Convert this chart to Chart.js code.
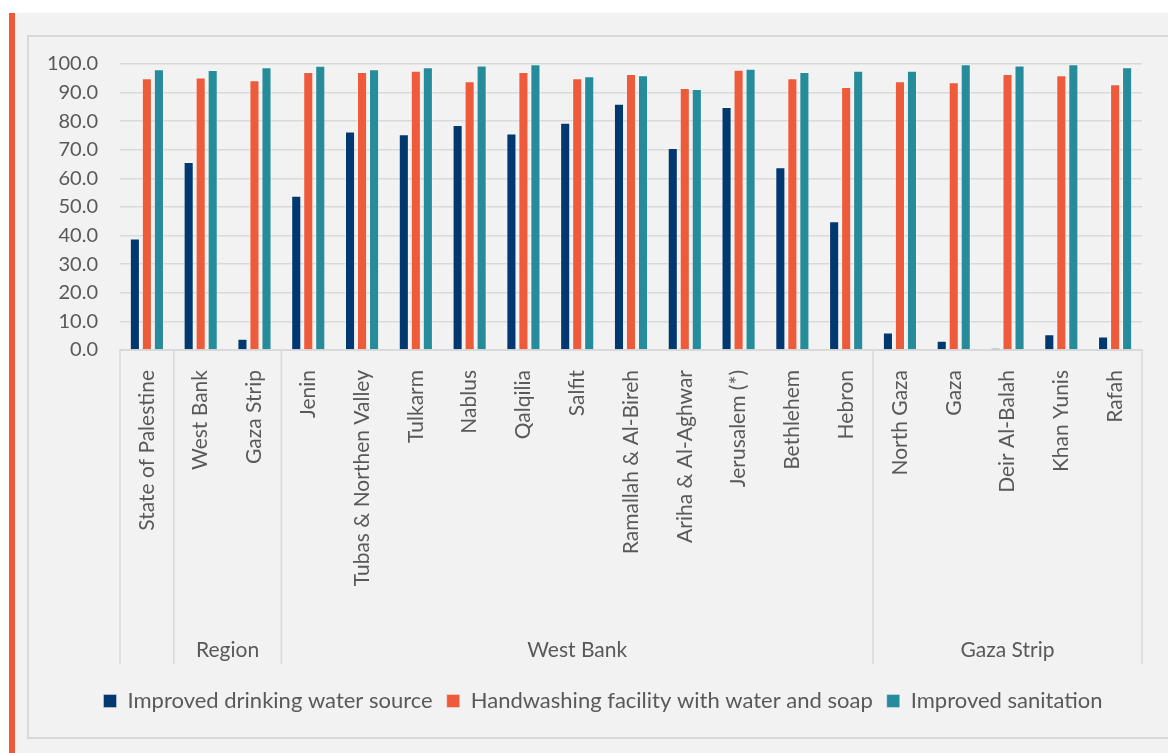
<!DOCTYPE html>
<html>
<head>
<meta charset="utf-8">
<script src="https://cdn.jsdelivr.net/npm/chart.js@4.4.1/dist/chart.umd.min.js"></script>
<style>
  html, body { margin: 0; padding: 0; background: #fff; }
  #wrap { width: 1168px; height: 753px; }
</style>
</head>
<body>
<div id="wrap"><canvas id="chart" width="1168" height="753"></canvas></div>
<script>
const categories = [
  'State of Palestine',
  'West Bank', 'Gaza Strip',
  'Jenin', 'Tubas & Northen Valley', 'Tulkarm', 'Nablus', 'Qalqilia', 'Salfit',
  'Ramallah & Al-Bireh', 'Ariha & Al-Aghwar', 'Jerusalem (*)', 'Bethlehem', 'Hebron',
  'North Gaza', 'Gaza', 'Deir Al-Balah', 'Khan Yunis', 'Rafah'
];
const groupLabels = ['', 'Region', 'West Bank', 'Gaza Strip'];
const groupSizes = [1, 2, 11, 5];

const seriesNames = [
  'Improved drinking water source',
  'Handwashing facility with water and soap',
  'Improved sanitation'
];
const drinkingWater = [39.0, 65.7, 3.9, 53.9, 76.4, 75.4, 78.7, 75.7, 79.5, 86.1, 70.6, 85.0, 63.9, 45.0, 6.1, 3.2, 0.6, 5.5, 4.7];
const handwashing = [95.0, 95.3, 94.3, 97.2, 97.2, 97.6, 94.0, 97.2, 95.0, 96.5, 91.6, 98.0, 95.0, 92.0, 94.0, 93.6, 96.5, 96.1, 92.9];
const sanitation = [98.2, 97.9, 98.9, 99.4, 98.2, 98.9, 99.5, 99.9, 95.7, 96.1, 91.3, 98.3, 97.2, 97.6, 97.6, 99.9, 99.5, 99.9, 98.9];

const COLORS = ['#00386f', '#ee5b3b', '#268b9a'];
const TEXT = '#595959';
const LINE = '#d9d9d9';
const FONT = 'Lato';

// page frame: white edge, orange strip, grey panel, inner border
const framePlugin = {
  id: 'frame',
  beforeDraw(chart) {
    const c = chart.ctx;
    c.save();
    c.fillStyle = '#ffffff';
    c.fillRect(0, 0, chart.width, chart.height);
    c.fillStyle = '#f2f2f2';
    c.fillRect(15, 13, chart.width - 15, chart.height - 13);
    c.fillStyle = '#ee5b3b';
    c.fillRect(9, 13, 6, chart.height - 13);
    c.strokeStyle = LINE;
    c.lineWidth = 2;
    c.strokeRect(28, 36, chart.width, 702);
    c.restore();
    // legend sits a bit right of the padded box centre
    if (chart.legend) {
      chart.legend.left += 12;
      chart.legend.right += 12;
    }
  }
};

// multi-level category axis: separators and group names
const groupPlugin = {
  id: 'groups',
  afterDraw(chart) {
    const x = chart.scales.x;
    const c = chart.ctx;
    const step = (x.right - x.left) / categories.length;
    const bottom = chart.chartArea.bottom;
    c.save();
    c.strokeStyle = LINE;
    c.lineWidth = 1.5;
    c.fillStyle = TEXT;
    c.font = '21px ' + FONT;
    c.textAlign = 'center';
    c.textBaseline = 'middle';
    let idx = 0;
    const edge = i => x.left + i * step;
    c.beginPath();
    c.moveTo(edge(0), bottom);
    c.lineTo(edge(0), 664);
    groupSizes.forEach((n, g) => {
      const a = edge(idx);
      const b = edge(idx + n);
      c.moveTo(b, bottom);
      c.lineTo(b, 664);
      if (groupLabels[g]) c.fillText(groupLabels[g], (a + b) / 2, 650);
      idx += n;
    });
    c.stroke();
    c.restore();
  }
};

const ctx = document.getElementById('chart').getContext('2d');
new Chart(ctx, {
  type: 'bar',
  data: {
    labels: categories,
    datasets: [drinkingWater, handwashing, sanitation].map((d, i) => ({
      label: seriesNames[i],
      data: d,
      backgroundColor: COLORS[i],
      borderColor: 'rgba(255,255,255,0.35)',
      borderWidth: 1,
      categoryPercentage: 0.67,
      barPercentage: 0.84
    }))
  },
  options: {
    responsive: false,
    animation: false,
    devicePixelRatio: 1,
    layout: { padding: { top: 64, left: 40, right: 26, bottom: 31 } },
    scales: {
      x: {
        grid: { display: false },
        border: { display: true, color: LINE, width: 2 },
        ticks: {
          color: TEXT,
          font: { family: FONT, size: 21 },
          minRotation: 90,
          maxRotation: 90,
          autoSkip: false,
          padding: 12
        },
        afterFit(scale) { scale.height = 326; }
      },
      y: {
        min: 0,
        max: 100,
        grid: { color: LINE, lineWidth: 1.5, drawTicks: false },
        border: { display: false },
        ticks: {
          stepSize: 10,
          color: TEXT,
          font: { family: FONT, size: 20 },
          padding: 22,
          callback: v => v.toFixed(1)
        },
        afterFit(scale) { scale.width = 80; }
      }
    },
    plugins: {
      legend: {
        position: 'bottom',
        labels: {
          color: TEXT,
          font: { family: FONT, size: 22 },
          boxWidth: 13,
          boxHeight: 13,
          padding: 14
        }
      },
      tooltip: { enabled: false }
    }
  },
  plugins: [framePlugin, groupPlugin]
});
</script>
</body>
</html>
